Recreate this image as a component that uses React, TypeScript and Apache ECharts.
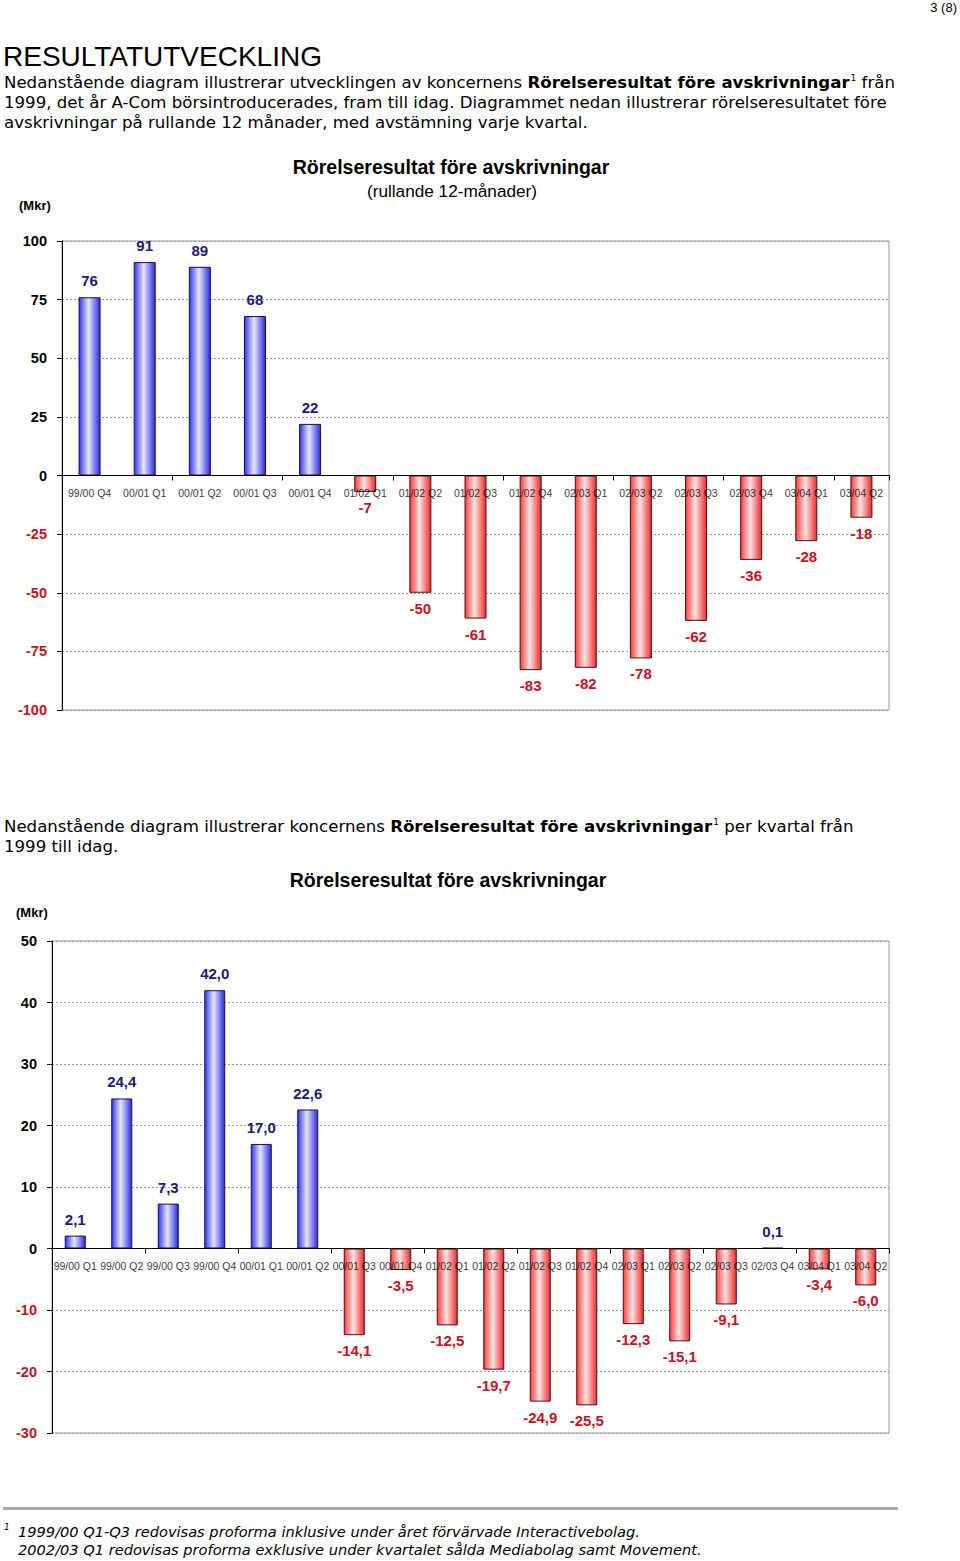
import React, { useEffect, useRef } from 'react';
import * as echarts from 'echarts';

const cats1 = ['99/00 Q4', '00/01 Q1', '00/01 Q2', '00/01 Q3', '00/01 Q4', '01/02 Q1', '01/02 Q2', '01/02 Q3', '01/02 Q4', '02/03 Q1', '02/03 Q2', '02/03 Q3', '02/03 Q4', '03/04 Q1', '03/04 Q2'];
const vals1 = [76, 91, 89, 68, 22, -7, -50, -61, -83, -82, -78, -62, -36, -28, -18];

const cats2 = ['99/00 Q1', '99/00 Q2', '99/00 Q3', '99/00 Q4', '00/01 Q1', '00/01 Q2', '00/01 Q3', '00/01 Q4', '01/02 Q1', '01/02 Q2', '01/02 Q3', '01/02 Q4', '02/03 Q1', '02/03 Q2', '02/03 Q3', '02/03 Q4', '03/04 Q1', '03/04 Q2'];
const vals2 = [2.1, 24.4, 7.3, 42.0, 17.0, 22.6, -14.1, -3.5, -12.5, -19.7, -24.9, -25.5, -12.3, -15.1, -9.1, 0.1, -3.4, -6.0];

const title1 = 'Rörelseresultat före avskrivningar';
const subtitle1 = '(rullande 12-månader)';
const title2 = 'Rörelseresultat före avskrivningar';
const unitLabel = '(Mkr)';

const ARIAL = '"Liberation Sans", Arial, sans-serif';
const VERD = '"DejaVu Sans", Verdana, sans-serif';
const NAVY = '#1b1b72';
const RED = '#cc1020';
const PSIZE = 16.6;

const blueGrad = () =>
  new echarts.graphic.LinearGradient(0, 0, 1, 0, [
    { offset: 0, color: '#3434f4' },
    { offset: 0.45, color: '#e6e6ff' },
    { offset: 1, color: '#2a2ae0' },
  ]);
const redGrad = () =>
  new echarts.graphic.LinearGradient(0, 0, 1, 0, [
    { offset: 0, color: '#ff3a3a' },
    { offset: 0.45, color: '#ffe4e4' },
    { offset: 1, color: '#ec2a2a' },
  ]);

function barData(vals: number[], fmt: (v: number) => string) {
  return vals.map((v) => ({
    value: v,
    itemStyle: {
      color: v >= 0 ? blueGrad() : redGrad(),
      borderColor: v >= 0 ? '#12124a' : '#4a1010',
      borderWidth: 1,
    },
    label: {
      show: true,
      position: v >= 0 ? 'top' : 'bottom',
      distance: v >= 0 ? 9 : 8,
      color: v >= 0 ? NAVY : RED,
      fontFamily: ARIAL,
      fontWeight: 'bold',
      fontSize: 15,
      formatter: () => fmt(v),
    },
  }));
}

// category labels drawn at the zero line (through the axis scales)
function catLabelSeries(xi: number, yi: number, cats: string[]) {
  return {
    type: 'scatter',
    xAxisIndex: xi,
    yAxisIndex: yi,
    z: 6,
    symbolSize: 0,
    silent: true,
    data: cats.map((c) => [c, 0]),
    label: {
      show: true,
      position: 'bottom',
      distance: 12,
      color: '#000',
      fontFamily: ARIAL,
      fontSize: 10.5,
      formatter: (p: any) => p.data[0],
    },
  };
}

const yLabel = (v: number) => (v < 0 ? `{n|${v}}` : `{p|${v}}`);
const yRich = {
  p: { color: '#000', fontFamily: ARIAL, fontWeight: 'bold', fontSize: 14.5 },
  n: { color: RED, fontFamily: ARIAL, fontWeight: 'bold', fontSize: 14.5 },
};

function txt(x: number, y: number, text: string, font: string, extra: any = {}) {
  return {
    type: 'text',
    x,
    y,
    style: { text, font, fill: '#000', align: 'left', verticalAlign: 'middle', ...extra },
  };
}

function richLine(x: number, y: number, text: string) {
  return {
    type: 'text',
    x,
    y,
    style: {
      text,
      fill: '#000',
      align: 'left',
      verticalAlign: 'middle',
      font: `${PSIZE}px ${VERD}`,
      rich: {
        n: { fontFamily: VERD, fontSize: PSIZE, color: '#000' },
        b: { fontFamily: VERD, fontSize: PSIZE, fontWeight: 'bold', color: '#000' },
        s: { fontFamily: VERD, fontSize: 9, color: '#000', padding: [0, 0, 8, 1] },
      },
    },
  };
}

export default function App() {
  const ref = useRef<HTMLDivElement>(null);
  useEffect(() => {
    if (!ref.current) return;
    const chart = echarts.init(ref.current, undefined, { renderer: 'svg' });
    const fmt1 = (v: number) => String(v);
    const fmt2 = (v: number) => v.toFixed(1).replace('.', ',');

    const xAxisBase = (gi: number, cats: string[]) => ({
      type: 'category',
      gridIndex: gi,
      data: cats,
      z: 10,
      axisLine: { onZero: true, lineStyle: { color: '#000', width: 1 } },
      axisTick: { show: true, length: 5, lineStyle: { color: '#000' } },
      axisLabel: { show: false },
      splitLine: { show: false },
    });
    const yAxisBase = (gi: number, min: number, max: number, interval: number) => ({
      type: 'value',
      gridIndex: gi,
      min,
      max,
      interval,
      axisLine: { show: true, lineStyle: { color: '#000' } },
      axisTick: { show: true, length: 5, lineStyle: { color: '#000' } },
      axisLabel: { margin: 15, formatter: yLabel, rich: yRich },
      splitLine: { show: true, lineStyle: { color: '#999', type: [2, 2], width: 1 } },
    });

    chart.setOption({
      animation: false,
      backgroundColor: '#fff',
      grid: [
        { left: 62, top: 241, width: 827, height: 469, show: true, borderColor: '#999', borderWidth: 1 },
        { left: 52, top: 941, width: 837, height: 492, show: true, borderColor: '#999', borderWidth: 1 },
      ],
      xAxis: [xAxisBase(0, cats1), xAxisBase(1, cats2)],
      yAxis: [yAxisBase(0, -100, 100, 25), yAxisBase(1, -30, 50, 10)],
      series: [
        { type: 'bar', xAxisIndex: 0, yAxisIndex: 0, barWidth: 22, data: barData(vals1, fmt1) },
        { type: 'bar', xAxisIndex: 1, yAxisIndex: 1, barWidth: 21, data: barData(vals2, fmt2) },
        catLabelSeries(0, 0, cats1),
        catLabelSeries(1, 1, cats2),
      ],
      graphic: [
        txt(957, 7, '3 (8)', `13px ${ARIAL}`, { align: 'right' }),
        txt(3, 56, 'RESULTATUTVECKLING', `28px ${ARIAL}`),
        richLine(4, 82, '{n|Nedanstående diagram illustrerar utvecklingen av koncernens }{b|Rörelseresultat före avskrivningar}{s|1}{n| från}'),
        richLine(4, 102, '{n|1999, det år A-Com börsintroducerades, fram till idag. Diagrammet nedan illustrerar rörelseresultatet före}'),
        richLine(4, 122, '{n|avskrivningar på rullande 12 månader, med avstämning varje kvartal.}'),
        txt(451, 167, title1, `bold 19.5px ${ARIAL}`, { align: 'center' }),
        txt(452, 191, subtitle1, `17.2px ${ARIAL}`, { align: 'center' }),
        txt(19, 205, unitLabel, `bold 13px ${ARIAL}`),
        richLine(4, 826, '{n|Nedanstående diagram illustrerar koncernens }{b|Rörelseresultat före avskrivningar}{s|1}{n| per kvartal från}'),
        richLine(4, 846, '{n|1999 till idag.}'),
        txt(448, 880, title2, `bold 19.5px ${ARIAL}`, { align: 'center' }),
        txt(16, 912, unitLabel, `bold 13px ${ARIAL}`),
        { type: 'rect', shape: { x: 3, y: 1507, width: 895, height: 3 }, style: { fill: '#a9a9a1' } },
        txt(4, 1527, '1', `italic 9px ${VERD}`),
        txt(18, 1531, '1999/00 Q1-Q3 redovisas proforma inklusive under året förvärvade Interactivebolag.', `italic 14.6px ${VERD}`),
        txt(18, 1549, '2002/03 Q1 redovisas proforma exklusive under kvartalet sålda Mediabolag samt Movement.', `italic 14.6px ${VERD}`),
      ],
    });
    return () => chart.dispose();
  }, []);
  return <div ref={ref} style={{ position: 'absolute', left: 0, top: 0, width: 960, height: 1561 }} />;
}
